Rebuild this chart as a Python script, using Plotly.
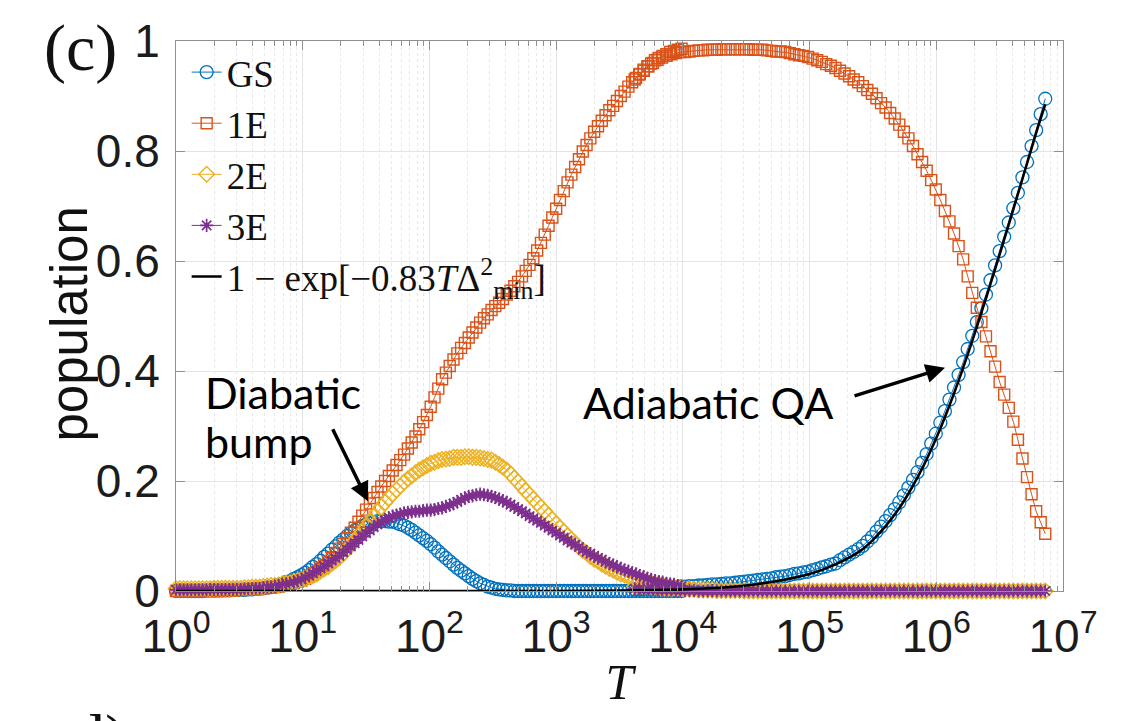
import plotly.graph_objects as go

# ---------------- data (log10 T grids and populations) -------------
LOGT_A = [0.00, 0.03, 0.06, 0.09, 0.12, 0.15, 0.18, 0.21, 0.24, 0.27, 0.30, 0.33, 0.36, 0.39,
          0.42, 0.45, 0.48, 0.51, 0.54, 0.57, 0.60, 0.63, 0.66, 0.69, 0.72, 0.75, 0.78, 0.81,
          0.84, 0.87, 0.90, 0.93, 0.96, 0.99, 1.02, 1.05, 1.08, 1.11, 1.14, 1.17, 1.20, 1.23,
          1.26, 1.29, 1.32, 1.35, 1.38, 1.41, 1.44, 1.47, 1.50, 1.53, 1.56, 1.59, 1.62, 1.65,
          1.68, 1.71, 1.74, 1.77, 1.80, 1.83, 1.86, 1.89, 1.92, 1.95, 1.98, 2.01, 2.04, 2.07,
          2.10, 2.13, 2.16, 2.19, 2.22, 2.25, 2.28, 2.31, 2.34, 2.37, 2.40, 2.43, 2.46, 2.49,
          2.52, 2.55, 2.58, 2.61, 2.64, 2.67, 2.70, 2.73, 2.76, 2.79, 2.82, 2.85, 2.88, 2.91,
          2.94, 2.97, 3.00, 3.03, 3.06, 3.09, 3.12, 3.15, 3.18, 3.21, 3.24, 3.27, 3.30, 3.33,
          3.36, 3.39, 3.42, 3.45, 3.48, 3.51, 3.54, 3.57, 3.60, 3.63, 3.66, 3.69, 3.72, 3.75,
          3.78, 3.81, 3.84, 3.87, 3.90, 3.93, 3.96, 3.99]

GS_A = [0.000, 0.000, 0.000, 0.000, 0.000, 0.000, 0.000, 0.000, 0.001, 0.001, 0.001, 0.001,
        0.001, 0.001, 0.001, 0.002, 0.002, 0.002, 0.002, 0.003, 0.003, 0.004, 0.004, 0.005,
        0.006, 0.007, 0.009, 0.011, 0.013, 0.016, 0.018, 0.022, 0.025, 0.029, 0.033, 0.038,
        0.044, 0.049, 0.055, 0.062, 0.068, 0.075, 0.081, 0.088, 0.094, 0.100, 0.105, 0.110,
        0.114, 0.118, 0.121, 0.123, 0.125, 0.127, 0.127, 0.127, 0.126, 0.126, 0.124, 0.121,
        0.119, 0.115, 0.111, 0.106, 0.101, 0.096, 0.091, 0.085, 0.079, 0.072, 0.066, 0.060,
        0.054, 0.048, 0.042, 0.037, 0.032, 0.027, 0.022, 0.018, 0.014, 0.011, 0.008, 0.006,
        0.004, 0.003, 0.002, 0.001, 0.001, 0.000, 0.000, 0.000, 0.000, 0.000, 0.000, 0.000,
        0.000, 0.000, 0.000, 0.000, 0.000, 0.000, 0.000, 0.000, 0.000, 0.000, 0.000, 0.000,
        0.000, 0.000, 0.000, 0.000, 0.000, 0.000, 0.000, 0.000, 0.000, 0.000, 0.000, 0.000,
        0.000, 0.000, 0.000, 0.000, 0.000, 0.000, 0.000, 0.000, 0.000, 0.000, 0.000, 0.000,
        0.000, 0.000]

E1_A = [0.000, 0.000, 0.000, 0.000, 0.000, 0.000, 0.000, 0.000, 0.000, 0.000, 0.000, 0.000,
        0.001, 0.001, 0.001, 0.001, 0.002, 0.002, 0.002, 0.003, 0.003, 0.004, 0.004, 0.005,
        0.006, 0.006, 0.007, 0.008, 0.010, 0.011, 0.013, 0.015, 0.017, 0.019, 0.022, 0.026,
        0.030, 0.035, 0.041, 0.046, 0.052, 0.060, 0.069, 0.077, 0.086, 0.096, 0.106, 0.115,
        0.126, 0.137, 0.148, 0.159, 0.169, 0.180, 0.190, 0.200, 0.209, 0.219, 0.229, 0.238,
        0.248, 0.259, 0.270, 0.281, 0.294, 0.307, 0.320, 0.335, 0.352, 0.368, 0.385, 0.397,
        0.409, 0.421, 0.432, 0.442, 0.451, 0.461, 0.470, 0.479, 0.488, 0.496, 0.503, 0.511,
        0.518, 0.524, 0.531, 0.539, 0.546, 0.554, 0.562, 0.572, 0.582, 0.593, 0.605, 0.619,
        0.633, 0.648, 0.664, 0.679, 0.695, 0.711, 0.727, 0.743, 0.757, 0.771, 0.785, 0.799,
        0.811, 0.823, 0.835, 0.845, 0.855, 0.865, 0.874, 0.882, 0.891, 0.900, 0.908, 0.917,
        0.925, 0.933, 0.940, 0.948, 0.954, 0.959, 0.965, 0.969, 0.973, 0.976, 0.980, 0.982,
        0.984, 0.986]

E2_A = [0.004, 0.004, 0.004, 0.004, 0.004, 0.004, 0.004, 0.004, 0.004, 0.004, 0.005, 0.005,
        0.005, 0.005, 0.005, 0.005, 0.005, 0.005, 0.006, 0.006, 0.007, 0.007, 0.007, 0.008,
        0.009, 0.010, 0.010, 0.011, 0.013, 0.014, 0.015, 0.017, 0.019, 0.021, 0.023, 0.026,
        0.028, 0.031, 0.036, 0.040, 0.044, 0.050, 0.055, 0.061, 0.068, 0.076, 0.083, 0.091,
        0.100, 0.108, 0.117, 0.126, 0.135, 0.144, 0.153, 0.161, 0.169, 0.177, 0.184, 0.191,
        0.198, 0.204, 0.209, 0.215, 0.220, 0.224, 0.228, 0.232, 0.234, 0.237, 0.239, 0.240,
        0.241, 0.243, 0.243, 0.243, 0.244, 0.244, 0.243, 0.243, 0.242, 0.241, 0.239, 0.238,
        0.234, 0.230, 0.225, 0.220, 0.213, 0.205, 0.198, 0.190, 0.182, 0.175, 0.167, 0.160,
        0.152, 0.145, 0.137, 0.130, 0.122, 0.115, 0.108, 0.100, 0.094, 0.087, 0.080, 0.074,
        0.069, 0.063, 0.058, 0.054, 0.049, 0.045, 0.041, 0.038, 0.034, 0.031, 0.029, 0.026,
        0.023, 0.021, 0.019, 0.017, 0.016, 0.015, 0.013, 0.012, 0.011, 0.009, 0.008, 0.007,
        0.006, 0.005]

E3_A = [0.002, 0.002, 0.002, 0.002, 0.002, 0.002, 0.002, 0.002, 0.002, 0.003, 0.003, 0.003,
        0.003, 0.003, 0.003, 0.003, 0.003, 0.003, 0.004, 0.004, 0.005, 0.005, 0.005, 0.006,
        0.007, 0.007, 0.008, 0.010, 0.011, 0.013, 0.014, 0.016, 0.019, 0.021, 0.025, 0.028,
        0.032, 0.036, 0.041, 0.045, 0.050, 0.055, 0.060, 0.064, 0.070, 0.075, 0.081, 0.087,
        0.093, 0.099, 0.105, 0.110, 0.116, 0.121, 0.125, 0.129, 0.133, 0.136, 0.138, 0.140,
        0.142, 0.143, 0.144, 0.145, 0.145, 0.146, 0.147, 0.147, 0.148, 0.150, 0.151, 0.154,
        0.156, 0.159, 0.162, 0.166, 0.169, 0.172, 0.173, 0.175, 0.176, 0.175, 0.174, 0.172,
        0.170, 0.167, 0.164, 0.161, 0.157, 0.153, 0.149, 0.145, 0.141, 0.136, 0.132, 0.128,
        0.124, 0.119, 0.115, 0.110, 0.106, 0.101, 0.097, 0.092, 0.088, 0.084, 0.080, 0.075,
        0.071, 0.068, 0.064, 0.060, 0.057, 0.053, 0.050, 0.047, 0.044, 0.041, 0.038, 0.036,
        0.033, 0.031, 0.028, 0.026, 0.023, 0.021, 0.019, 0.017, 0.016, 0.014, 0.013, 0.012,
        0.010, 0.009]

LOGT_B = [3.620, 3.656, 3.692, 3.728, 3.764, 3.800, 3.836, 3.872, 3.908, 3.944, 3.980, 4.016,
          4.052, 4.088, 4.124, 4.160, 4.196, 4.232, 4.268, 4.304, 4.340, 4.376, 4.412, 4.448,
          4.484, 4.520, 4.556, 4.592, 4.628, 4.664, 4.700, 4.736, 4.772, 4.808, 4.844, 4.880,
          4.916, 4.952, 4.988, 5.024, 5.060, 5.096, 5.132, 5.168, 5.204, 5.240, 5.276, 5.312,
          5.348, 5.384, 5.420, 5.456, 5.492, 5.528, 5.564, 5.600, 5.636, 5.672, 5.708, 5.744,
          5.780, 5.816, 5.852, 5.888, 5.924, 5.960, 5.996, 6.032, 6.068, 6.104, 6.140, 6.176,
          6.212, 6.248, 6.284, 6.320, 6.356, 6.392, 6.428, 6.464, 6.500, 6.536, 6.572, 6.608,
          6.644, 6.680, 6.716, 6.752, 6.788, 6.824, 6.860]

GS_B = [0.003, 0.003, 0.004, 0.004, 0.005, 0.005, 0.006, 0.006, 0.007, 0.007, 0.008, 0.008,
        0.009, 0.009, 0.010, 0.010, 0.011, 0.012, 0.012, 0.013, 0.014, 0.014, 0.015, 0.016,
        0.017, 0.018, 0.019, 0.020, 0.021, 0.022, 0.023, 0.025, 0.026, 0.027, 0.029, 0.031,
        0.032, 0.034, 0.035, 0.038, 0.040, 0.043, 0.045, 0.048, 0.050, 0.056, 0.061, 0.066,
        0.071, 0.076, 0.082, 0.090, 0.098, 0.108, 0.117, 0.127, 0.138, 0.149, 0.161, 0.174,
        0.188, 0.202, 0.216, 0.233, 0.249, 0.268, 0.286, 0.306, 0.327, 0.348, 0.370, 0.393,
        0.416, 0.440, 0.464, 0.489, 0.514, 0.539, 0.565, 0.592, 0.618, 0.644, 0.670, 0.696,
        0.724, 0.752, 0.780, 0.809, 0.838, 0.867, 0.895]

E1_B = [0.930, 0.939, 0.946, 0.954, 0.960, 0.966, 0.970, 0.973, 0.976, 0.978, 0.980, 0.980,
        0.981, 0.982, 0.983, 0.983, 0.984, 0.984, 0.984, 0.985, 0.985, 0.985, 0.985, 0.985,
        0.985, 0.985, 0.984, 0.984, 0.984, 0.983, 0.982, 0.981, 0.981, 0.980, 0.978, 0.976,
        0.974, 0.973, 0.971, 0.968, 0.965, 0.962, 0.958, 0.955, 0.951, 0.946, 0.941, 0.936,
        0.930, 0.925, 0.918, 0.911, 0.904, 0.896, 0.887, 0.879, 0.869, 0.859, 0.848, 0.835,
        0.823, 0.809, 0.794, 0.780, 0.764, 0.747, 0.730, 0.711, 0.691, 0.672, 0.650, 0.627,
        0.603, 0.572, 0.542, 0.515, 0.489, 0.463, 0.436, 0.408, 0.380, 0.357, 0.333, 0.308,
        0.275, 0.241, 0.207, 0.176, 0.145, 0.125, 0.104]

E2_B = [0.008, 0.008, 0.007, 0.007, 0.006, 0.006, 0.005, 0.005, 0.004, 0.004, 0.004, 0.003,
        0.003, 0.003, 0.002, 0.002, 0.002, 0.002, 0.001, 0.001, 0.001, 0.001, 0.001, 0.001,
        0.000, 0.000, 0.000, 0.000, 0.000, 0.000, 0.000, 0.000, 0.000, 0.000, 0.000, 0.000,
        0.000, 0.000, 0.000, 0.000, 0.000, 0.000, 0.000, 0.000, 0.000, 0.000, 0.000, 0.000,
        0.000, 0.000, 0.000, 0.000, 0.000, 0.000, 0.000, 0.000, 0.000, 0.000, 0.000, 0.000,
        0.000, 0.000, 0.000, 0.000, 0.000, 0.000, 0.000, 0.000, 0.000, 0.000, 0.000, 0.000,
        0.000, 0.000, 0.000, 0.000, 0.000, 0.000, 0.000, 0.000, 0.000, 0.000, 0.000, 0.000,
        0.000, 0.000, 0.000, 0.000, 0.000, 0.000, 0.000]

E3_B = [0.004, 0.004, 0.003, 0.003, 0.003, 0.002, 0.002, 0.002, 0.002, 0.001, 0.001, 0.001,
        0.001, 0.001, 0.000, 0.000, 0.000, 0.000, 0.000, 0.000, 0.000, 0.000, 0.000, 0.000,
        0.000, 0.000, 0.000, 0.000, 0.000, 0.000, 0.000, 0.000, 0.000, 0.000, 0.000, 0.000,
        0.000, 0.000, 0.000, 0.000, 0.000, 0.000, 0.000, 0.000, 0.000, 0.000, 0.000, 0.000,
        0.000, 0.000, 0.000, 0.000, 0.000, 0.000, 0.000, 0.000, 0.000, 0.000, 0.000, 0.000,
        0.000, 0.000, 0.000, 0.000, 0.000, 0.000, 0.000, 0.000, 0.000, 0.000, 0.000, 0.000,
        0.000, 0.000, 0.000, 0.000, 0.000, 0.000, 0.000, 0.000, 0.000, 0.000, 0.000, 0.000,
        0.000, 0.000, 0.000, 0.000, 0.000, 0.000, 0.000]

FIT_LOGT = [0.0, 1.0, 2.0, 3.0, 3.5, 4.0, 4.5, 5.0, 5.2, 5.4, 5.5, 5.6, 5.7, 5.8, 5.9, 6.0,
            6.1, 6.2, 6.3, 6.4, 6.5, 6.6, 6.7, 6.8, 6.86]
FIT_Y = [0.000, 0.000, 0.000, 0.000, 0.001, 0.003, 0.010, 0.031, 0.048, 0.073, 0.093, 0.118,
         0.148, 0.185, 0.228, 0.278, 0.335, 0.398, 0.466, 0.538, 0.612, 0.688, 0.765, 0.842,
         0.885]

SERIES = ["GS", "1E", "2E", "3E"]
FIT_LABEL = "1 − exp[−0.83<i>T</i>Δ<sup>2</sup><sub>min</sub>]"
X_TICK_EXP = [0, 1, 2, 3, 4, 5, 6, 7]
Y_TICKS = [0, 0.2, 0.4, 0.6, 0.8, 1]
Y_TICK_TEXT = ["0", "0.2", "0.4", "0.6", "0.8", "1"]

# ---------------- styling -----------------------------------------------------------------
COLORS = {"GS": "#0072BD", "1E": "#D95319", "2E": "#EDB120", "3E": "#7E2F8E"}
SYMBOLS = {"GS": "circle-open", "1E": "square-open", "2E": "diamond-open", "3E": "asterisk-open"}
SIZES = {"GS": 13, "1E": 11, "2E": 12, "3E": 11}
WIDTHS = {"GS": 1.3, "1E": 1.4, "2E": 1.4, "3E": 1.7}
DATA = {"GS": (GS_A, GS_B), "1E": (E1_A, E1_B), "2E": (E2_A, E2_B), "3E": (E3_A, E3_B)}

FRAME = "#8f8f8f"
SANS = "Liberation Sans, Arial, sans-serif"
SERIF = "Liberation Serif, Times New Roman, serif"
TICK_COLOR = "#1c1c1c"

fig = go.Figure()

for name in SERIES:
    ya, yb = DATA[name]
    xs = [10 ** v for v in LOGT_A] + [None] + [10 ** v for v in LOGT_B]
    ys = list(ya) + [None] + list(yb)
    fig.add_trace(go.Scatter(
        x=xs, y=ys, name=name, mode="lines+markers", cliponaxis=False,
        connectgaps=False,
        line=dict(color=COLORS[name], width=1),
        marker=dict(symbol=SYMBOLS[name], size=SIZES[name], color=COLORS[name],
                    line=dict(color=COLORS[name], width=WIDTHS[name])),
    ))

fig.add_trace(go.Scatter(
    x=[10 ** v for v in FIT_LOGT], y=FIT_Y, name=FIT_LABEL, mode="lines",
    line=dict(color="black", width=2.6, shape="spline"), cliponaxis=False,
))

minor_vals = [k * 10 ** d for d in range(7) for k in range(2, 10)]

fig.update_layout(
    width=1130, height=721,
    margin=dict(l=176, r=67, t=41, b=130),
    paper_bgcolor="white", plot_bgcolor="white",
    showlegend=True,
    legend=dict(x=0.012, y=0.999, xanchor="left", yanchor="top",
                bgcolor="rgba(0,0,0,0)", borderwidth=0,
                font=dict(family=SERIF, size=37, color="#111111"),
                tracegroupgap=0, itemwidth=30),
    font=dict(family=SANS, color=TICK_COLOR),
)

fig.update_xaxes(
    type="log", range=[0, 7],
    tickmode="array", tickvals=[10 ** e for e in X_TICK_EXP],
    ticktext=["10<sup>%d</sup>" % e for e in X_TICK_EXP],
    tickfont=dict(family=SANS, size=46, color=TICK_COLOR),
    ticks="inside", ticklen=9, tickwidth=1, tickcolor=FRAME,
    showline=True, linecolor=FRAME, linewidth=1, mirror="allticks",
    showgrid=True, gridcolor="#e4e4e4", gridwidth=1, zeroline=False,
    minor=dict(tickmode="array", tickvals=minor_vals, ticks="inside", ticklen=5,
               tickcolor=FRAME, showgrid=True, gridcolor="#e8e8e8", griddash="dot"),
    ticklabelstandoff=5,
    title=dict(text="<i>T</i>", font=dict(family=SERIF, size=50, color="#111111"), standoff=2),
)

fig.update_yaxes(
    range=[0, 1], tickmode="array", tickvals=Y_TICKS, ticktext=Y_TICK_TEXT,
    tickfont=dict(family=SANS, size=46, color=TICK_COLOR),
    ticks="inside", ticklen=9, tickwidth=1, tickcolor=FRAME,
    showline=True, linecolor=FRAME, linewidth=1, mirror="allticks",
    showgrid=True, gridcolor="#e4e4e4", gridwidth=1, zeroline=False,
    ticklabelstandoff=6,
)

# y-axis label placed as rotated text
fig.add_annotation(text="population", xref="paper", yref="paper", x=-0.1195, y=0.4845,
                   xanchor="center", yanchor="middle", textangle=-90, showarrow=False,
                   font=dict(family=SANS, size=51, color="#111111"))

ANN_FONT = dict(family="Lato, Open Sans, sans-serif", size=43, color="black")
fig.add_annotation(text="Diabatic", xref="paper", yref="paper", x=0.030, y=0.361,
                   xanchor="left", yanchor="middle", showarrow=False, font=ANN_FONT)
fig.add_annotation(text="bump", xref="paper", yref="paper", x=0.030, y=0.272,
                   xanchor="left", yanchor="middle", showarrow=False, font=ANN_FONT)
fig.add_annotation(text="Adiabatic QA", xref="paper", yref="paper", x=0.600, y=0.343,
                   xanchor="center", yanchor="middle", showarrow=False, font=ANN_FONT)
# arrows (tip at data point, tail in data coordinates)
fig.add_annotation(x=1.515, y=0.163, ax=1.231, ay=0.297, xref="x", yref="y",
                   axref="x", ayref="y", text="", showarrow=True, arrowhead=2,
                   arrowsize=1.1, arrowwidth=3.5, arrowcolor="black", standoff=0)
fig.add_annotation(x=6.069, y=0.406, ax=5.343, ay=0.354, xref="x", yref="y",
                   axref="x", ayref="y", text="", showarrow=True, arrowhead=2,
                   arrowsize=1.1, arrowwidth=3.5, arrowcolor="black", standoff=0)

# panel labels
fig.add_annotation(text="(c)", xref="paper", yref="paper", x=-0.108, y=0.988,
                   xanchor="center", yanchor="middle", showarrow=False,
                   font=dict(family=SERIF, size=66, color="#111111"))
fig.add_annotation(text="d)", xref="paper", yref="paper", x=-0.12, y=-0.197,
                   xanchor="left", yanchor="top", showarrow=False,
                   font=dict(family=SERIF, size=66, color="#111111"))

fig.write_html("out.html")
